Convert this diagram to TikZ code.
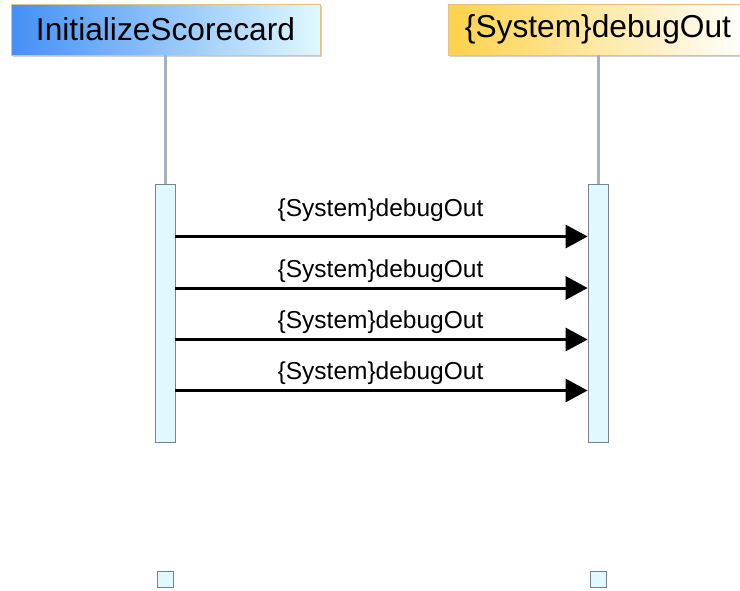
\documentclass[tikz,border=0pt]{standalone}
\usepackage{fontspec}
\setmainfont{Liberation Sans}
\usetikzlibrary{arrows.meta,shadows}
\definecolor{lifegray}{HTML}{A8B2B8}
\definecolor{actfill}{HTML}{E0F8FF}
\definecolor{actdraw}{HTML}{76858C}
\definecolor{hdrblue}{HTML}{4290F5}
\definecolor{hdrcyan}{HTML}{E0F8FF}
\definecolor{hdryellow}{HTML}{FDD24A}
\definecolor{hdrborder}{HTML}{E8C27A}
\tikzset{
  hdr/.style={rectangle, draw=hdrborder, line width=0.8pt, minimum height=51pt, inner sep=0pt,
    font=\fontsize{31.7}{36}\selectfont, text=black,
    drop shadow={shadow xshift=1.5pt, shadow yshift=-1.5pt, fill=black!30, opacity=0.6}},
  life/.style={draw=lifegray, line width=3pt},
  actbox/.style={rectangle, draw=actdraw, fill=actfill, line width=0.8pt, minimum width=20pt, minimum height=258pt, inner sep=0pt},
  endbox/.style={rectangle, draw=actdraw, fill=actfill, line width=1pt, minimum width=16pt, minimum height=16pt, inner sep=0pt},
  msg/.style={line width=3pt, -{Triangle[length=22pt,width=23pt]}},
  msglabel/.style={font=\fontsize{24.5}{28}\selectfont, inner sep=0pt}
}
\begin{document}
\begin{tikzpicture}[x=1pt,y=-1pt]
\useasboundingbox (0,0) rectangle (740,590);
% headers
\node[hdr, minimum width=309pt, left color=hdrblue, right color=hdrcyan] (hL) at (165.5,29.5) {InitializeScorecard};
\node[hdr, minimum width=300pt, left color=hdryellow, right color=white] (hR) at (598,29.5) {\{System\}debugOut};
% activations
\node[actbox] (aL) at (165,313) {};
\node[actbox] (aR) at (598,313) {};
% lifelines
\draw[life] (hL.south -| aL.north) -- (aL.north);
\draw[life] (hR.south -| aR.north) -- (aR.north);
% end squares
\node[endbox] (eL) at (165.5,579.7) {};
\node[endbox] (eR) at (598.7,579.7) {};
% messages
\foreach \i/\y/\ly in {1/236.5/210.5, 2/288/271.5, 3/339.5/322.5, 4/390.5/373.5}{
  \coordinate (s\i) at (aL.east |- 0,\y);
  \coordinate (t\i) at (aR.west |- 0,\y);
  \draw[msg] (s\i) -- (t\i);
  \node[msglabel] (l\i) at (380.5,\ly) {\{System\}debugOut};
}
\end{tikzpicture}
\end{document}
